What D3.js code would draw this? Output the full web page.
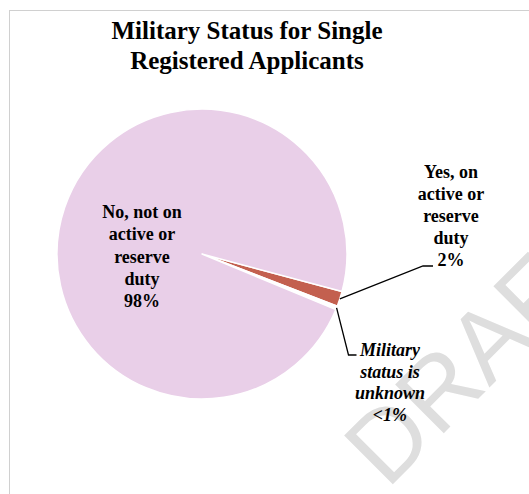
<!DOCTYPE html>
<html>
<head>
<meta charset="utf-8">
<script src="https://cdn.jsdelivr.net/npm/d3@7"></script>
<style>
  html, body { margin: 0; padding: 0; background: #ffffff; }
  svg { display: block; }
  .serif { font-family: "Liberation Serif", "Times New Roman", Times, serif; }
  .wm { font-family: "Liberation Sans", Arial, sans-serif; }
</style>
</head>
<body>
<svg id="chart" width="529" height="494"></svg>
<script>
// ---- data ----
const categories = ["Yes, on active or reserve duty", "Military status is unknown", "No, not on active or reserve duty"];
const values = [1.7, 0.4, 97.9];
const percentLabels = ["2%", "<1%", "98%"];
const labelLines = [
  ["Yes, on", "active or", "reserve", "duty"],
  ["Military", "status is", "unknown"],
  ["No, not on", "active or", "reserve", "duty"]
];
const colors = ["#C3604F", "#FFFFFF", "#E9CFE8"];
const titleLines = ["Military Status for Single", "Registered Applicants"];
const watermark = "DRAFT";

// ---- layout ----
const cx = 202, cy = 254, R = 145;
const startDeg = 105;
const svg = d3.select("#chart");

// watermark (behind)
svg.append("text")
  .attr("class", "wm")
  .attr("transform", "translate(387,490) rotate(-45)")
  .style("font-size", "100px")
  .attr("fill", "#dedede")
  .text(watermark);

// chart border
svg.append("rect")
  .attr("x", 9.5).attr("y", 10.5)
  .attr("width", 700).attr("height", 700)
  .attr("fill", "none")
  .attr("stroke", "#d0d0d0")
  .attr("stroke-width", 1);

// title
svg.append("text")
  .attr("class", "serif")
  .attr("text-anchor", "middle")
  .style("font-weight", "bold")
  .style("font-size", "25px")
  .selectAll("tspan")
  .data(titleLines)
  .join("tspan")
  .attr("x", 247)
  .attr("y", (d, i) => 39 + i * 30)
  .text(d => d);

// pie
const a0 = startDeg * Math.PI / 180;
const pie = d3.pie().sort(null).startAngle(a0).endAngle(a0 + 2 * Math.PI).value(d => d);
const arcs = pie(values);
const arc = d3.arc().innerRadius(0).outerRadius(R);

const g = svg.append("g").attr("transform", `translate(${cx},${cy})`);
g.selectAll("path")
  .data(arcs)
  .join("path")
  .attr("d", arc)
  .attr("fill", (d, i) => colors[i])
  .attr("stroke", "#ffffff")
  .attr("stroke-width", 1.5)
  .attr("stroke-linejoin", "round");

// leader lines
function edgePoint(d) {
  const m = (d.startAngle + d.endAngle) / 2;
  return [cx + R * Math.sin(m), cy - R * Math.cos(m)];
}
const leaders = [
  { i: 0, elbow: [423, 266], end: [433, 266] },
  { i: 1, elbow: [348.5, 355], end: [356.5, 355] }
];
leaders.forEach(l => {
  const p = edgePoint(arcs[l.i]);
  svg.append("polyline")
    .attr("points", [p, l.elbow, l.end].map(q => q.join(",")).join(" "))
    .attr("fill", "none")
    .attr("stroke", "#000000")
    .attr("stroke-width", 1.3);
});

// labels
const labelPos = [
  { x: 451, y: 178, dy: 22, italic: false },
  { x: 390, y: 356, dy: 21.7, italic: true },
  { x: 142, y: 218, dy: 22.3, italic: false }
];
labelLines.forEach((lines, i) => {
  const lp = labelPos[i];
  const t = svg.append("text")
    .attr("class", "serif")
    .attr("text-anchor", "middle")
    .style("font-weight", "bold")
    .style("font-style", lp.italic ? "italic" : "normal")
    .style("font-size", "18px")
    .attr("fill", "#000000");
  lines.concat([percentLabels[i]]).forEach((s, k) => {
    t.append("tspan").attr("x", lp.x).attr("y", lp.y + k * lp.dy).text(s);
  });
});
</script>
</body>
</html>
